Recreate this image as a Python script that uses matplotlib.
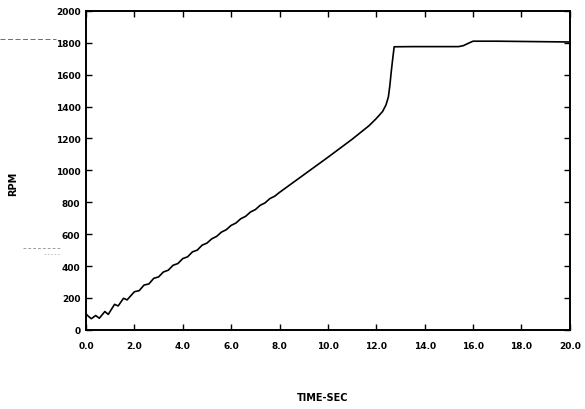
#!/usr/bin/env python
# -*- coding: utf-8 -*-
import matplotlib
matplotlib.use("Agg")
import matplotlib.pyplot as plt
from matplotlib.lines import Line2D

# tiempo [s] y velocidad [RPM]
tiempo = [0.0, 0.1, 0.22, 0.4, 0.55, 0.78, 0.92, 1.18, 1.33, 1.55, 1.7,
          2.0, 2.2, 2.4, 2.6, 2.8, 3.0, 3.2, 3.4, 3.6, 3.8,
          4.0, 4.2, 4.4, 4.6, 4.8, 5.0, 5.2, 5.4, 5.6, 5.8,
          6.0, 6.2, 6.4, 6.6, 6.8, 7.0, 7.2, 7.4, 7.6, 7.8,
          8.0, 9.0, 10.0, 11.0, 11.7, 12.0, 12.26, 12.4, 12.5, 12.56,
          12.62, 12.68, 12.74, 13.5, 15.4, 15.6, 15.85, 16.0, 17.0, 20.0]
rpm = [100, 85, 70, 90, 73, 115, 97, 160, 150, 198, 188,
       239, 246, 281, 288, 323, 332, 363, 374, 405, 416,
       447, 458, 489, 500, 531, 544, 571, 586, 613, 628,
       655, 670, 697, 712, 739, 754, 781, 796, 823, 838,
       862, 972, 1082, 1195, 1280, 1325, 1369, 1410, 1460, 1530,
       1620, 1700, 1775, 1776, 1776, 1782, 1800, 1810, 1810, 1805]

xticks = [0, 2, 4, 6, 8, 10, 12, 14, 16, 18, 20]
xlabels = ["0.0", "2.0", "4.0", "6.0", "8.0", "10.0", "12.0", "14.0", "16.0", "18.0", "20.0"]
yticks = [0, 200, 400, 600, 800, 1000, 1200, 1400, 1600, 1800, 2000]

fig = plt.figure(figsize=(5.85, 4.1), dpi=100)
ax = fig.add_axes([0.147, 0.193, 0.827, 0.778])

ax.plot(tiempo, rpm, color="black", lw=1.2)

ax.set_xlim(0, 20)
ax.set_ylim(0, 2000)
ax.set_xticks(xticks)
ax.set_xticklabels(xlabels)
ax.set_yticks(yticks)
ax.tick_params(direction="in", length=4, width=1, top=True, right=True,
               labelsize=6.5)
ax.tick_params(axis="x", pad=8)
ax.tick_params(axis="y", pad=4)
for lbl in ax.get_xticklabels() + ax.get_yticklabels():
    lbl.set_fontweight("bold")
for s in ax.spines.values():
    s.set_linewidth(1.4)

ax.set_xlabel("TIME-SEC", fontsize=7, fontweight="bold")
ax.xaxis.set_label_coords(0.49, -0.195)
ax.set_ylabel("RPM", fontsize=7, fontweight="bold")
ax.yaxis.set_label_coords(-0.14, 0.46)

# marcas del escaneo a la izquierda
fig.add_artist(Line2D([0.0, 0.095], [0.902, 0.902], color="#555555", lw=0.6, ls=(0, (6, 3))))
fig.add_artist(Line2D([0.04, 0.105], [0.392, 0.392], color="#777777", lw=0.5, ls=(0, (4, 3))))
fig.add_artist(Line2D([0.075, 0.105], [0.378, 0.378], color="#999999", lw=0.4, ls=(0, (3, 3))))

plt.savefig("out.png", dpi=100)
